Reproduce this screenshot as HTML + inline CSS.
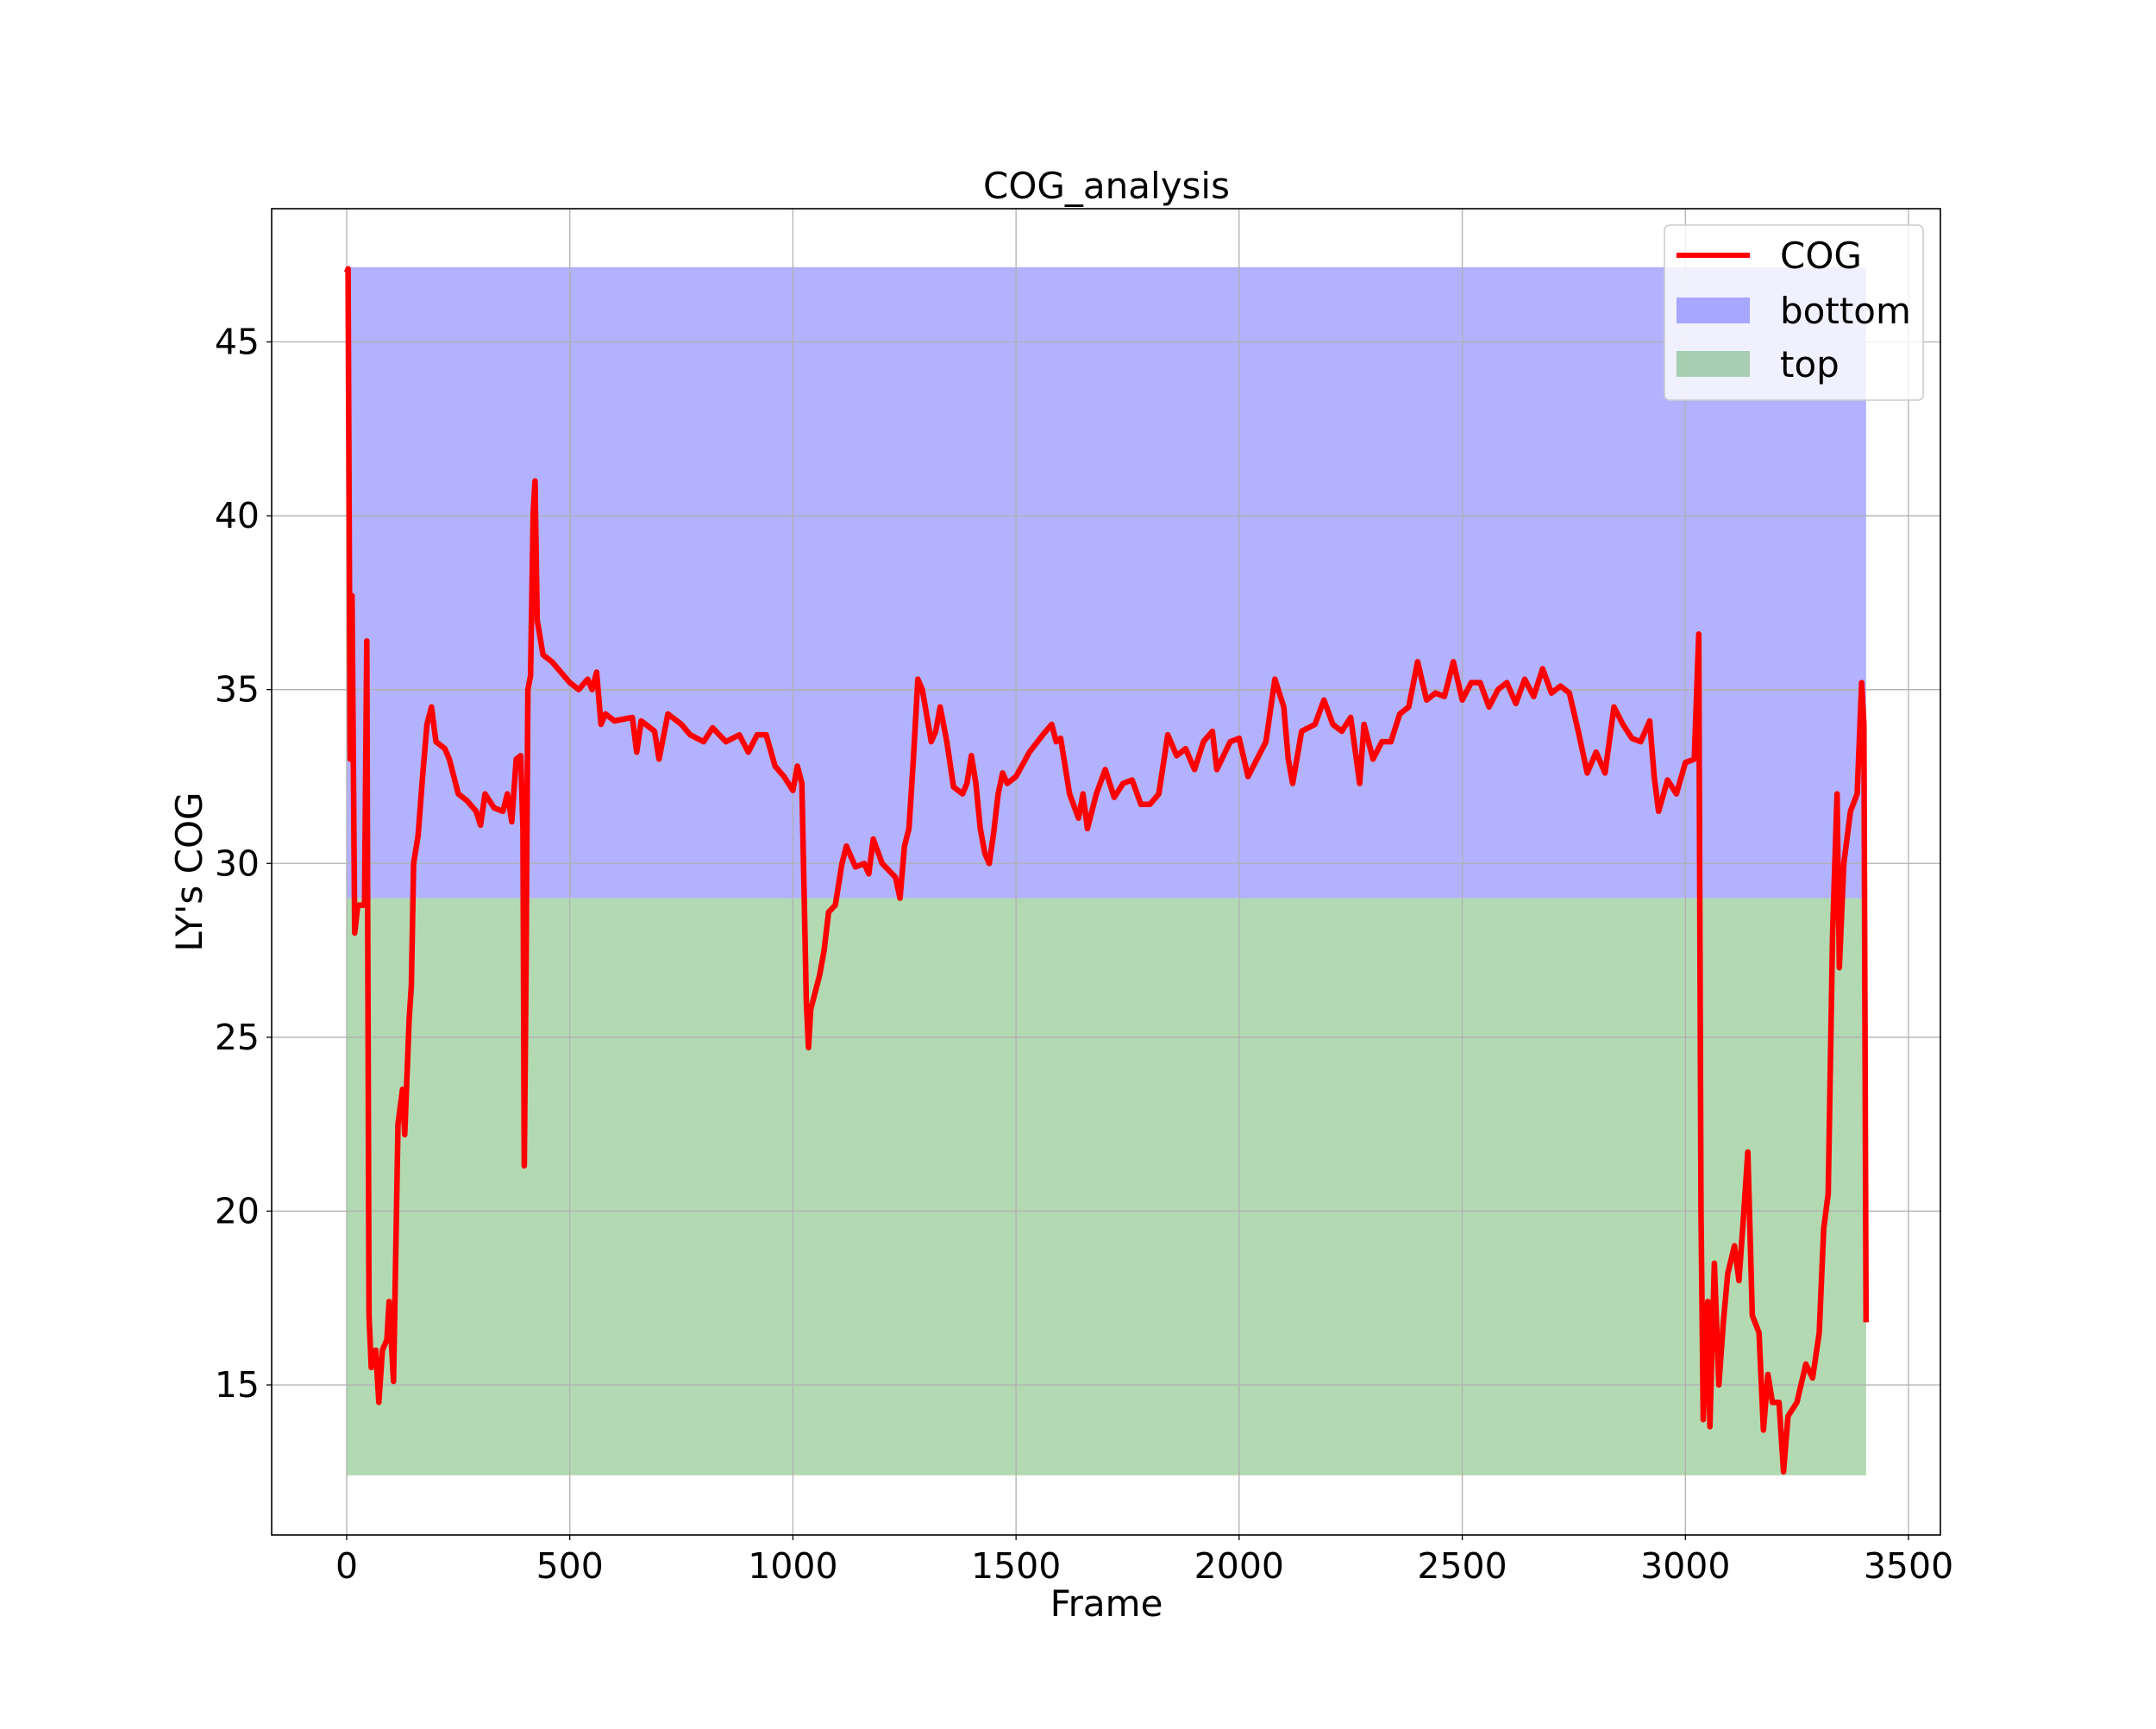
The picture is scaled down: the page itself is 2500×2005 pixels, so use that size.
<!DOCTYPE html>
<html><head><meta charset="utf-8"><style>
html,body{margin:0;padding:0;background:#fff}
svg text{font-family:"DejaVu Sans","Liberation Sans",sans-serif;fill:#000}
</style></head><body>
<svg id="chart" width="2500" height="2000" xmlns="http://www.w3.org/2000/svg">
<g id="fills"></g>
<g id="grid"></g>
<g id="lines"></g>
<rect x="315" y="242" width="1935" height="1538" fill="none" stroke="#000" stroke-width="1.6"/>
<g id="ticks"></g>
<text x="1283" y="230" font-size="42" text-anchor="middle">COG_analysis</text>
<text x="1283" y="1874" font-size="42" text-anchor="middle">Frame</text>
<text transform="translate(234,1011) rotate(-90)" font-size="42" text-anchor="middle">LY's COG</text>
<g>
<rect x="1930" y="261" width="300" height="203" rx="6" fill="#fff" fill-opacity="0.8" stroke="#ccc" stroke-width="1.6"/>
<line x1="1944" y1="296" x2="2029" y2="296" stroke="#ff0000" stroke-width="6"/>
<text x="2064" y="311" font-size="42">COG</text>
<rect x="1944" y="345" width="85" height="30" fill="#0000ff" fill-opacity="0.3"/>
<text x="2064" y="375" font-size="42">bottom</text>
<rect x="1944" y="407" width="85" height="30" fill="#008000" fill-opacity="0.3"/>
<text x="2064" y="437" font-size="42">top</text>
</g>
</svg>
<script>
const xTicks=[0,500,1000,1500,2000,2500,3000,3500];
const yTicks=[15,20,25,30,35,40,45];
const bands=[{name:'bottom',lo:29,hi:47.15,color:'#0000ff'},{name:'top',lo:12.4,hi:29,color:'#008000'}];
const bandXRange=[0,3405];
const frames=[0,3,8,12,18,25,40,45,50,55,65,72,80,90,95,105,115,125,130,140,145,150,160,170,180,190,200,220,230,250,270,290,300,310,330,350,360,370,380,390,395,398,402,406,412,418,422,427,440,460,480,500,520,540,550,560,570,580,600,640,650,660,690,700,720,750,770,800,820,850,880,900,920,940,960,980,1000,1010,1020,1030,1035,1040,1060,1070,1080,1095,1110,1120,1140,1160,1170,1180,1200,1230,1240,1250,1260,1270,1280,1290,1310,1320,1330,1345,1360,1380,1390,1400,1410,1420,1430,1440,1450,1460,1470,1480,1500,1530,1560,1580,1590,1600,1620,1640,1650,1660,1680,1700,1720,1740,1760,1780,1800,1820,1840,1860,1880,1900,1920,1940,1950,1980,2000,2020,2040,2060,2080,2100,2110,2120,2140,2170,2190,2210,2230,2250,2270,2280,2300,2320,2340,2360,2380,2400,2420,2440,2460,2480,2500,2520,2540,2560,2580,2600,2620,2640,2660,2680,2700,2720,2740,2760,2780,2800,2820,2840,2860,2880,2900,2920,2930,2940,2960,2980,3000,3020,3030,3035,3040,3050,3055,3065,3075,3085,3095,3110,3120,3130,3140,3150,3165,3175,3185,3195,3210,3220,3230,3250,3270,3285,3300,3310,3320,3330,3340,3345,3355,3370,3385,3395,3400,3405];
const cog=[47,47.1,33,37.7,28,28.8,28.8,36.4,17,15.5,16,14.5,16,16.3,17.4,15.1,22.5,23.5,22.2,25.5,26.5,30,30.8,32.5,34,34.5,33.5,33.3,33,32,31.8,31.5,31.1,32,31.6,31.5,32,31.2,33,33.1,31,21.3,27,35,35.4,40.1,41,37,36,35.8,35.5,35.2,35,35.3,35,35.5,34,34.3,34.1,34.2,33.2,34.1,33.8,33,34.3,34,33.7,33.5,33.9,33.5,33.7,33.2,33.7,33.7,32.8,32.5,32.1,32.8,32.3,26,24.7,25.8,26.8,27.5,28.6,28.8,30,30.5,29.9,30,29.7,30.7,30,29.6,29,30.5,31,33,35.3,35,33.5,33.8,34.5,33.5,32.2,32,32.3,33.1,32.3,31,30.3,30,30.9,32,32.6,32.3,32.5,33.2,33.7,34,33.5,33.6,32,31.3,32,31,32,32.7,31.9,32.3,32.4,31.7,31.7,32,33.7,33.1,33.3,32.7,33.5,33.8,32.7,33.5,33.6,32.5,33,33.5,35.3,34.5,33,32.3,33.8,34,34.7,34,33.8,34.2,32.3,34,33,33.5,33.5,34.3,34.5,35.8,34.7,34.9,34.8,35.8,34.7,35.2,35.2,34.5,35,35.2,34.6,35.3,34.8,35.6,34.9,35.1,34.9,33.8,32.6,33.2,32.6,34.5,34,33.6,33.5,34.1,32.5,31.5,32.4,32,32.9,33,36.6,20,14,17.4,13.8,18.5,15,16.8,18.2,19,18,19.8,21.7,17,16.5,13.7,15.3,14.5,14.5,12.5,14.1,14.5,15.6,15.2,16.5,19.5,20.5,28,32,27,30,31.5,32,35.2,34,16.8];
const L=315,R=2250,T=242,B=1780;
function X(v){return 402+v*(2213-402)/3500;}
function Y(v){return 396.5+(45-v)*(1606-396.5)/30;}
const NS='http://www.w3.org/2000/svg';
function mk(t,a,p){const e=document.createElementNS(NS,t);for(const k in a)e.setAttribute(k,a[k]);p.appendChild(e);return e;}
const grid=document.getElementById('grid'),ticks=document.getElementById('ticks');
xTicks.forEach(t=>{
 const gl=mk('line',{x1:X(t),x2:X(t),y1:T,y2:B,stroke:'#b0b0b0','stroke-width':1.3},grid);
 
 
 const tk=mk('line',{x1:X(t),x2:X(t),y1:B,y2:B+6,stroke:'#000','stroke-width':1.3},ticks);
 
 
 const tx=mk('text',{x:X(t),y:B+50,'font-size':41,'text-anchor':'middle'},ticks);
 tx.textContent=t;
 
 
});
yTicks.forEach(t=>{
 const gl=mk('line',{x1:L,x2:R,y1:Y(t),y2:Y(t),stroke:'#b0b0b0','stroke-width':1.3},grid);
 
 
 const tk=mk('line',{x1:L-6,x2:L,y1:Y(t),y2:Y(t),stroke:'#000','stroke-width':1.3},ticks);
 
 
 const tx=mk('text',{x:L-14,y:Y(t)+14,'font-size':41,'text-anchor':'end'},ticks);
 tx.textContent=t;
 
 
});
const fills=document.getElementById('fills');
bands.forEach(b=>{
 const r=mk('rect',{x:X(bandXRange[0]),y:Y(b.hi),width:X(bandXRange[1])-X(bandXRange[0]),height:Y(b.lo)-Y(b.hi),fill:b.color,'fill-opacity':0.3},fills);
 
 
});
const pts=frames.map((f,i)=>X(f).toFixed(1)+','+Y(cog[i]).toFixed(1)).join(' ');
const pl=mk('polyline',{points:pts,fill:'none',stroke:'#ff0000','stroke-width':6.5,'stroke-linejoin':'round'},document.getElementById('lines'));


</script>
</body></html>
